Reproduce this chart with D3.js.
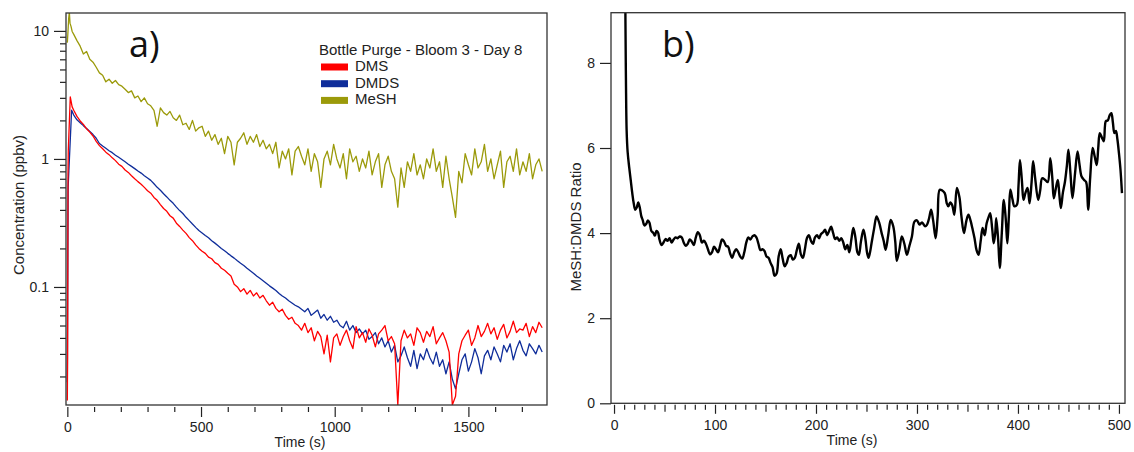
<!DOCTYPE html>
<html>
<head>
<meta charset="utf-8">
<script src="https://cdn.jsdelivr.net/npm/d3@7"></script>
<style>
  body { margin: 0; background: #fff; }
  svg { display: block; font-family: "Liberation Sans", Arial, sans-serif; }
  .tick text { fill: #222; }
</style>
</head>
<body>
<div id="main"></div>
<script>

// ---- panel a) : concentrations, sampled every 12 s after the initial spike ----
let concTime = d3.range(24, 1777, 12)

let dmsHeadT = [0, 1, 2.5, 3.5, 11, 18]
let dmsHeadV = [0.013, 0.03, 0.75, 1.15, 3.05, 2.55]
let dmdsHeadT = [0, 3, 16]
let dmdsHeadV = [0.018, 0.6, 2.4]
let meshHeadT = [0, 2, 5, 7.5, 10, 14, 18]
let meshHeadV = [8.1, 9.5, 12.5, 14, 11.5, 10.8, 9.9]

let dms = [
  2.4, 2.15, 1.98, 1.86, 1.72, 1.62, 1.51, 1.37, 1.27, 1.2,
  1.13, 1.08, 1.02, 0.97, 0.91, 0.875, 0.82, 0.785, 0.74, 0.7,
  0.665, 0.635, 0.6, 0.565, 0.54, 0.5, 0.475, 0.44, 0.41, 0.39,
  0.36, 0.345, 0.315, 0.297, 0.278, 0.262, 0.243, 0.23, 0.213, 0.2,
  0.19, 0.183, 0.171, 0.166, 0.155, 0.15, 0.14, 0.135, 0.128, 0.122,
  0.105, 0.1, 0.092, 0.097, 0.088, 0.094, 0.085, 0.09, 0.082, 0.086,
  0.078, 0.072, 0.076, 0.068, 0.064, 0.067, 0.06, 0.056, 0.058, 0.052,
  0.05, 0.046, 0.052, 0.044, 0.048, 0.038, 0.045, 0.041, 0.03, 0.042,
  0.026, 0.04, 0.043, 0.035, 0.041, 0.046, 0.038, 0.033, 0.049, 0.04,
  0.044, 0.037, 0.047, 0.042, 0.034, 0.043, 0.046, 0.05, 0.038, 0.041,
  0.036, 0.012, 0.038, 0.046, 0.04, 0.043, 0.035, 0.048, 0.044, 0.037,
  0.045, 0.041, 0.049, 0.036, 0.04, 0.044, 0.038, 0.031, 0.012, 0.014,
  0.03, 0.038, 0.042, 0.046, 0.035, 0.04, 0.05, 0.041, 0.045, 0.052,
  0.043, 0.048, 0.039, 0.046, 0.051, 0.04, 0.045, 0.054, 0.044, 0.047,
  0.046, 0.052, 0.041, 0.049, 0.044, 0.053, 0.048
]

let dmds = [
  2.2, 2.02, 1.92, 1.82, 1.73, 1.64, 1.55, 1.45, 1.32, 1.26,
  1.21, 1.16, 1.12, 1.07, 1.03, 0.99, 0.95, 0.91, 0.875, 0.84,
  0.805, 0.775, 0.74, 0.71, 0.68, 0.64, 0.6, 0.57, 0.535, 0.505,
  0.475, 0.45, 0.42, 0.395, 0.375, 0.35, 0.33, 0.31, 0.292, 0.276,
  0.264, 0.252, 0.242, 0.23, 0.22, 0.21, 0.2, 0.192, 0.183, 0.175,
  0.168, 0.16, 0.153, 0.147, 0.14, 0.134, 0.128, 0.122, 0.117, 0.112,
  0.107, 0.102, 0.098, 0.094, 0.089, 0.085, 0.082, 0.078, 0.075, 0.072,
  0.07, 0.067, 0.064, 0.068, 0.06, 0.063, 0.066, 0.057, 0.061, 0.055,
  0.059, 0.053, 0.055, 0.05, 0.048, 0.054, 0.046, 0.05, 0.044, 0.047,
  0.043, 0.046, 0.039, 0.041, 0.044, 0.036, 0.04, 0.034, 0.038, 0.031,
  0.035, 0.026, 0.029, 0.034, 0.028, 0.024, 0.032, 0.023, 0.03, 0.027,
  0.033, 0.028, 0.025, 0.031, 0.024, 0.027, 0.021, 0.026, 0.019, 0.016,
  0.021, 0.027, 0.03, 0.022, 0.026, 0.033, 0.028, 0.021, 0.029, 0.032,
  0.027, 0.034, 0.03, 0.026, 0.035, 0.031, 0.036, 0.027, 0.033, 0.038,
  0.032, 0.029, 0.036, 0.033, 0.03, 0.035, 0.031
]

let mesh = [
  9.4, 8.4, 7.6, 6.6, 6.9, 6.0, 5.7, 5.2, 4.7, 4.5,
  4.0, 4.2, 3.9, 4.1, 3.8, 3.7, 3.5, 3.3, 3.4, 3.0,
  3.1, 2.8, 3.0, 2.7, 2.6, 2.4, 1.8, 2.5, 2.3, 2.2,
  2.35, 2.1, 2.0, 2.2, 1.85, 1.9, 1.7, 2.0, 1.65, 1.75,
  1.8, 1.5, 1.65, 1.4, 1.55, 1.3, 1.45, 1.1, 1.5, 1.35,
  0.9, 1.35, 1.45, 1.6, 1.3, 1.5, 1.35, 1.55, 1.25, 1.4,
  1.2, 1.3, 1.1, 1.35, 0.85, 1.15, 1.0, 1.2, 0.75, 1.15,
  1.25, 1.05, 0.9, 1.2, 0.8, 1.1, 0.95, 0.6, 1.0, 1.15,
  0.9, 1.3, 1.0, 0.85, 1.1, 0.7, 1.2, 0.95, 1.05, 0.8,
  1.0, 0.85, 1.15, 0.75, 0.95, 1.1, 0.6, 0.9, 1.05, 0.8,
  0.7, 0.42, 0.85, 0.6, 0.95, 0.8, 1.1, 0.75, 0.9, 0.7,
  1.0, 0.85, 1.2, 0.8, 0.95, 0.6, 1.05, 0.7, 0.5, 0.35,
  0.8, 0.65, 1.1, 0.9, 0.75, 1.2, 0.85, 0.95, 1.3, 0.8,
  1.0, 0.7, 0.9, 1.15, 0.6, 0.95, 1.05, 0.8, 1.2, 0.75,
  0.95, 0.8, 1.1, 0.7, 0.9, 1.0, 0.8
]

let seriesNames = ["DMS", "DMDS", "MeSH"]
let seriesColors = ["#ff0000", "#0f2d9a", "#9b9a0a"]
let legendTitle = "Bottle Purge - Bloom 3 - Day 8"

// ---- panel b) : MeSH:DMDS ratio ----
let ratioTime = [
  10.8, 11.3, 11.8, 12.5, 13.5, 15, 16.5, 18, 19.5, 21, 22.5, 24, 25.5, 27, 28.5, 30, 32, 33.5, 35, 37,
  39, 40.5, 42, 43.5, 45, 47, 49, 51, 53, 55, 57, 59, 61, 63, 65, 67, 69, 71, 73, 75,
  77, 79, 81, 83, 85, 87, 89, 91, 93, 95, 97, 99, 101, 103, 105, 107, 109, 111, 113, 115,
  117, 119, 121, 123, 125, 127, 129, 131, 133, 135, 137, 139, 141, 143, 145, 147, 149, 151, 153, 155,
  157, 159, 161, 163, 165, 167, 169, 171, 173, 175, 177, 179, 181, 183, 185, 187, 189, 191, 193, 195,
  197, 199, 201, 203, 205, 207, 209, 211, 213, 215, 217, 219, 221, 223, 225, 227, 229, 231, 233, 235,
  237, 239, 241, 242.5, 244.5, 247, 249, 250.5, 252, 253.5, 255, 257.5, 260, 262.5, 265, 267, 269, 271.5, 274, 276.5,
  278.5, 280, 282.5, 285, 287.5, 290, 292.5, 295, 297.5, 300, 302.5, 305, 308, 310, 312, 314, 316, 318.5, 320.5, 322.5,
  325, 327.5, 329.5, 331, 333, 335, 337, 339.5, 342, 344, 346.5, 349, 351, 353, 355, 357, 359, 361, 363, 365,
  367, 369, 371, 372.5, 374.5, 376, 377.5, 378.5, 380.5, 382, 384, 386, 388, 389.5, 391, 392.5, 394.5, 396.5, 399, 400.5,
  402, 404, 405.5, 407.5, 409.5, 411.5, 413.5, 415, 417, 420, 422, 424, 427, 429.5, 432, 434, 435.5, 437.5, 439.5, 441,
  442.5, 444.5, 446.5, 448.5, 450, 452, 454, 456.5, 459, 461, 463, 465.5, 467.5, 469.5, 471.5, 474, 476, 478, 479.5, 481,
  483, 485, 487, 489, 491, 492.5, 494, 495.5, 497, 498.5, 500, 501.5, 503
]
let ratioValue = [
  12, 9.0, 7.6, 6.4, 5.9, 5.55, 5.25, 4.95, 4.7, 4.55, 4.6, 4.72, 4.6, 4.4, 4.3, 4.18, 4.22, 4.3, 4.25, 4.05,
  4.0, 3.94, 4.05, 4.02, 3.85, 3.72, 3.78, 3.86, 3.82, 3.88, 3.78, 3.85, 3.9, 3.88, 3.92, 3.9, 3.78, 3.7, 3.75, 3.85,
  3.8, 3.72, 3.9, 4.02, 3.95, 3.78, 3.82, 3.75, 3.62, 3.5, 3.55, 3.68, 3.62, 3.55, 3.7, 3.85, 3.8, 3.7, 3.68, 3.52,
  3.42, 3.55, 3.62, 3.55, 3.45, 3.4, 3.55, 3.78, 3.9, 3.85, 3.92, 3.95, 3.9, 3.75, 3.6, 3.62, 3.58, 3.45, 3.42, 3.3,
  3.2, 3.0, 3.05, 3.45, 3.62, 3.4, 3.22, 3.3, 3.45, 3.48, 3.38, 3.42, 3.6, 3.75, 3.5, 3.42, 3.62, 3.88, 3.95, 3.82,
  3.75, 3.9, 3.95, 3.88, 3.98, 4.02, 4.08, 3.95, 4.05, 4.15, 4.0, 3.86, 3.9, 3.82, 3.88, 3.78, 3.62, 3.72, 3.55, 3.85,
  4.12, 3.9, 3.55, 3.49, 3.8, 4.08, 3.85, 3.55, 3.42, 3.55, 3.76, 4.1, 4.39, 4.25, 4.0, 3.82, 3.61, 3.95, 4.31, 4.16,
  3.8, 3.35, 3.6, 3.92, 3.75, 3.49, 3.7, 3.92, 4.27, 4.3, 4.2, 4.25, 4.16, 4.2, 4.35, 4.55, 4.3, 3.88, 4.4, 5.02,
  5.0, 4.94, 4.7, 4.63, 4.72, 4.65, 4.43, 5.06, 4.85, 4.4, 4.0, 4.3, 4.43, 4.3, 4.1, 3.88, 3.6, 3.49, 3.8, 4.12,
  3.95, 4.23, 4.38, 4.47, 4.1, 3.76, 4.0, 4.35, 3.8, 3.18, 4.0, 4.78, 4.3, 3.76, 4.4, 5.02, 4.8, 4.63, 4.67, 5.1,
  5.72, 5.2, 4.78, 4.95, 5.06, 4.7, 5.2, 5.69, 5.3, 4.78, 5.0, 5.29, 5.25, 5.2, 5.76, 5.3, 4.82, 5.05, 5.25, 4.9,
  4.59, 4.95, 5.2, 5.6, 5.96, 5.4, 4.82, 5.4, 5.92, 5.6, 5.33, 5.25, 5.2, 4.55, 5.3, 6.0, 5.8, 5.6, 6.0, 6.35,
  6.25, 6.16, 6.63, 6.65, 6.78, 6.82, 6.6, 6.35, 6.4, 6.2, 5.88, 5.5, 4.94
]

let width = 1134
let height = 452

let svg = d3.select("#main")
            .append("svg")
            .attr("width", width)
            .attr("height", height)

let defs = svg.append("defs")

function clip (id, x0, y0, x1, y1) {
    defs.append("clipPath").attr("id", id)
        .append("rect")
        .attr("x", x0).attr("y", y0)
        .attr("width", x1 - x0).attr("height", y1 - y0)
    return "url(#" + id + ")"
}

function tidy (g) {
    g.select(".domain").remove()
    g.selectAll("line").attr("stroke", "#222").attr("stroke-width", 1.2)
    g.selectAll("text").attr("font-size", 14)
}

// =================== panel a ===================
let aL = 66, aR = 547, aT = 13, aB = 405

const xA = d3.scaleLinear().domain([-5, 1794]).range([aL, aR])
const yA = d3.scaleLog().domain([0.01197, 13.8]).range([aB, aT])

let xMajA = d3.axisBottom(xA).tickValues([0, 500, 1000, 1500]).tickSize(10).tickSizeOuter(0).tickPadding(5).tickFormat(d => d)
svg.append("g")
   .attr("transform", "translate(0," + (aB + 2) + ")")
   .call(xMajA)
   .call(tidy)

let xMinA = d3.axisBottom(xA).tickValues(d3.range(100, 1800, 100).filter(d => d % 500)).tickSize(5).tickFormat("")
svg.append("g")
   .attr("transform", "translate(0," + (aB + 2) + ")")
   .call(xMinA)
   .call(tidy)

let yMajA = d3.axisLeft(yA).tickValues([0.1, 1, 10]).tickSize(12).tickPadding(5).tickFormat(d => d)
svg.append("g")
   .attr("transform", "translate(" + aL + ",0)")
   .call(yMajA)
   .call(tidy)

let logMinor = []
;[0.01, 0.1, 1].forEach(dec => d3.range(2, 10).forEach(k => logMinor.push(+(k * dec).toPrecision(3))))
let yMinA = d3.axisLeft(yA).tickValues(logMinor.filter(d => d > 0.012 && d < 13.8)).tickSize(6).tickFormat("")
svg.append("g")
   .attr("transform", "translate(" + aL + ",0)")
   .call(yMinA)
   .call(tidy)

let clipA = clip("clipA", aL, aT, aR, aB)

function joinSeries (headT, headV, vals) {
    let pts = headT.map((t, i) => [t, headV[i]])
    concTime.forEach((t, i) => pts.push([t, vals[i]]))
    return pts
}

let concSeries = [
    joinSeries(dmsHeadT, dmsHeadV, dms),
    joinSeries(dmdsHeadT, dmdsHeadV, dmds),
    joinSeries(meshHeadT, meshHeadV, mesh)
]

let lineA = d3.line().x(d => xA(d[0])).y(d => yA(d[1]))

// MeSH first, then DMDS, then DMS on top
;[2, 1, 0].forEach(k => {
    svg.append("path")
       .datum(concSeries[k])
       .attr("clip-path", clipA)
       .attr("fill", "none")
       .attr("stroke", seriesColors[k])
       .attr("stroke-width", 1.3)
       .attr("stroke-linejoin", "round")
       .attr("d", lineA)
})

svg.append("rect")
   .attr("x", aL).attr("y", aT)
   .attr("width", aR - aL).attr("height", aB - aT)
   .attr("fill", "none")
   .attr("stroke", "#333")
   .attr("stroke-width", 1.3)

svg.append("text")
   .attr("transform", "translate(20,205) rotate(-90)")
   .attr("text-anchor", "middle")
   .attr("dominant-baseline", "middle")
   .attr("font-size", 15)
   .attr("fill", "#222")
   .text("Concentration (ppbv)")

svg.append("text")
   .attr("x", 300)
   .attr("y", 447)
   .attr("text-anchor", "middle")
   .attr("font-size", 14)
   .attr("fill", "#222")
   .text("Time (s)")

svg.append("text")
   .attr("x", 129).attr("y", 57)
   .attr("font-family", "'Open Sans', 'Noto Sans', sans-serif")
   .attr("font-size", 36)
   .attr("fill", "#111")
   .text("a)")

// legend
let leg = svg.append("g")
leg.append("text")
   .attr("x", 319).attr("y", 51)
   .attr("dominant-baseline", "middle")
   .attr("font-size", 15)
   .attr("fill", "#222")
   .text(legendTitle)
seriesNames.forEach((name, i) => {
    let yy = 67 + i * 16.7
    leg.append("rect")
       .attr("x", 321).attr("y", yy - 3.5)
       .attr("width", 27).attr("height", 7)
       .attr("fill", seriesColors[i])
    leg.append("text")
       .attr("x", 355).attr("y", yy)
       .attr("dominant-baseline", "middle")
       .attr("font-size", 15)
       .attr("fill", "#222")
       .text(name)
})

// =================== panel b ===================
let bL = 611, bR = 1125, bT = 12.7, bB = 403.3

const xB = d3.scaleLinear().domain([-3, 506]).range([bL, bR])
const yB = d3.scaleLinear().domain([0, 9.18]).range([bB, bT])

let xMajB = d3.axisBottom(xB).tickValues(d3.range(0, 501, 100)).tickSize(9).tickSizeOuter(0).tickPadding(6)
svg.append("g")
   .attr("transform", "translate(0," + (bB + 1.5) + ")")
   .call(xMajB)
   .call(tidy)

let xMidB = d3.axisBottom(xB).tickValues(d3.range(50, 500, 100)).tickSize(7).tickFormat("")
svg.append("g")
   .attr("transform", "translate(0," + (bB + 1.5) + ")")
   .call(xMidB)
   .call(tidy)

let xMinB = d3.axisBottom(xB).tickValues(d3.range(10, 500, 10).filter(d => d % 50)).tickSize(5).tickFormat("")
svg.append("g")
   .attr("transform", "translate(0," + (bB + 1.5) + ")")
   .call(xMinB)
   .call(tidy)

let yAxB = d3.axisLeft(yB).tickValues([0, 2, 4, 6, 8]).tickSize(11).tickPadding(5)
svg.append("g")
   .attr("transform", "translate(" + bL + ",0)")
   .call(yAxB)
   .call(tidy)

let clipB = clip("clipB", bL, bT, bR, bB)

let lineB = d3.line().x((d, i) => xB(ratioTime[i])).y(d => yB(d)).curve(d3.curveCatmullRom)

svg.append("path")
   .datum(ratioValue)
   .attr("clip-path", clipB)
   .attr("fill", "none")
   .attr("stroke", "#000")
   .attr("stroke-width", 2.4)
   .attr("stroke-linejoin", "round")
   .attr("d", lineB)

svg.append("rect")
   .attr("x", bL).attr("y", bT)
   .attr("width", bR - bL).attr("height", bB - bT)
   .attr("fill", "none")
   .attr("stroke", "#333")
   .attr("stroke-width", 1.3)

svg.append("text")
   .attr("transform", "translate(577,227) rotate(-90)")
   .attr("text-anchor", "middle")
   .attr("dominant-baseline", "middle")
   .attr("font-size", 15)
   .attr("fill", "#222")
   .text("MeSH:DMDS Ratio")

svg.append("text")
   .attr("x", 852)
   .attr("y", 445)
   .attr("text-anchor", "middle")
   .attr("font-size", 14)
   .attr("fill", "#222")
   .text("Time (s)")

svg.append("text")
   .attr("x", 662).attr("y", 57)
   .attr("font-family", "'Open Sans', 'Noto Sans', sans-serif")
   .attr("font-size", 36)
   .attr("fill", "#111")
   .text("b)")

</script>
</body>
</html>
